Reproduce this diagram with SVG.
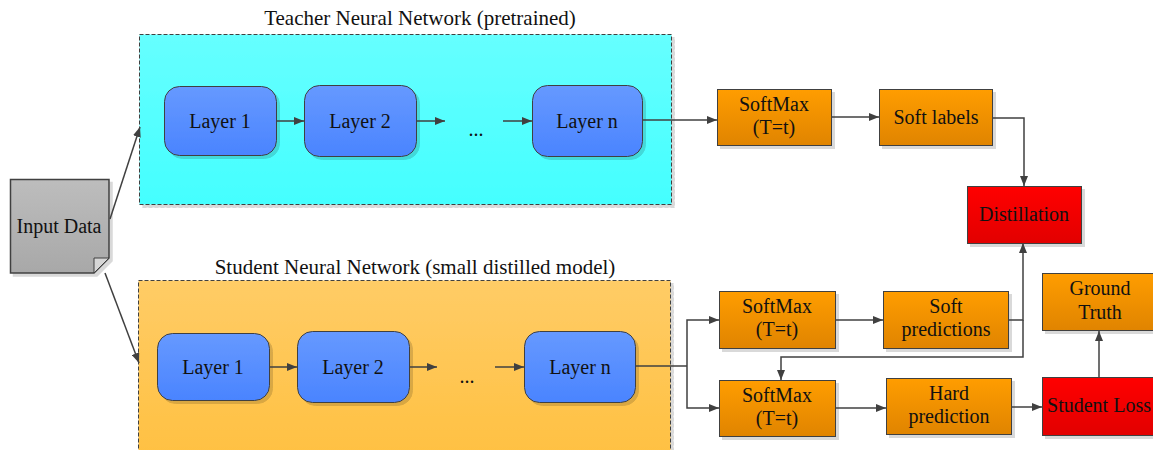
<svg xmlns="http://www.w3.org/2000/svg" width="1153" height="450" viewBox="0 0 1153 450">
  <defs>
    <linearGradient id="gCyan" x1="0" y1="0" x2="0" y2="1">
      <stop offset="0" stop-color="#66ffff"/>
      <stop offset="1" stop-color="#44ffff"/>
    </linearGradient>
    <linearGradient id="gPeach" x1="0" y1="0" x2="0" y2="1">
      <stop offset="0" stop-color="#ffcc66"/>
      <stop offset="1" stop-color="#ffc040"/>
    </linearGradient>
    <linearGradient id="gBlue" x1="0" y1="0" x2="0" y2="1">
      <stop offset="0" stop-color="#6699ff"/>
      <stop offset="1" stop-color="#4a84ff"/>
    </linearGradient>
    <linearGradient id="gOrange" x1="0" y1="0" x2="0" y2="1">
      <stop offset="0" stop-color="#ff9d00"/>
      <stop offset="1" stop-color="#e08400"/>
    </linearGradient>
    <linearGradient id="gRed" x1="0" y1="0" x2="0" y2="1">
      <stop offset="0" stop-color="#ff0000"/>
      <stop offset="1" stop-color="#e20000"/>
    </linearGradient>
    <linearGradient id="gGray" x1="0" y1="0" x2="0" y2="1">
      <stop offset="0" stop-color="#bdbdbd"/>
      <stop offset="1" stop-color="#a8a8a8"/>
    </linearGradient>
    <filter id="shadow" x="-10%" y="-10%" width="130%" height="130%">
      <feDropShadow dx="3" dy="3" stdDeviation="0.6" flood-color="#000" flood-opacity="0.15"/>
    </filter>
    <marker id="arrow" viewBox="0 0 10 8" refX="10" refY="4" markerWidth="10" markerHeight="8" markerUnits="userSpaceOnUse" orient="auto">
      <path d="M0,0 L10,4 L0,8 z" fill="#404040"/>
    </marker>
  </defs>
  <style>
    text { font-family: "Liberation Serif", "Times New Roman", serif; font-size: 20px; fill: #111; text-anchor: middle; }
    .title { font-size: 21px; }
    .group { stroke: #404040; stroke-width: 1; stroke-dasharray: 4 2; filter: url(#shadow); }
    .layer { fill: url(#gBlue); stroke: #404040; stroke-width: 1; filter: url(#shadow); }
    .orange { fill: url(#gOrange); stroke: #404040; stroke-width: 1; filter: url(#shadow); }
    .red { fill: url(#gRed); stroke: #404040; stroke-width: 1; filter: url(#shadow); }
    .conn path { fill: none; stroke: #404040; stroke-width: 1.5; }
    .conn .arr { marker-end: url(#arrow); }
  </style>

  <rect width="1153" height="450" fill="#ffffff"/>

  <!-- Teacher network container -->
  <g id="teacher">
    <text class="title" x="420" y="25">Teacher Neural Network (pretrained)</text>
    <rect class="group" x="139.5" y="34.5" width="532" height="170" fill="url(#gCyan)"/>
  </g>

  <!-- Student network container -->
  <g id="student">
    <text class="title" x="415" y="274">Student Neural Network (small distilled model)</text>
    <rect class="group" x="138.5" y="280.5" width="532" height="185" fill="url(#gPeach)"/>
  </g>

  <!-- Input document shape with folded corner -->
  <g id="input-data">
    <path d="M10.5,179.5 H109 V258 L94,273 H10.5 Z" fill="url(#gGray)" stroke="#404040" stroke-width="1.5" filter="url(#shadow)"/>
    <path d="M94,258 H109 L94,273 Z" fill="#d6d6d6" stroke="#404040" stroke-width="1"/>
    <text x="59" y="233">Input Data</text>
  </g>

  <!-- Teacher layers -->
  <g id="t-layer1">
    <rect class="layer" x="164.5" y="86.5" width="112" height="69" rx="15"/>
    <text x="220" y="128">Layer 1</text>
  </g>
  <g id="t-layer2">
    <rect class="layer" x="304.5" y="85.5" width="112" height="71" rx="15"/>
    <text x="360" y="128">Layer 2</text>
  </g>
  <g id="t-dots">
    <text x="476" y="136">...</text>
  </g>
  <g id="t-layern">
    <rect class="layer" x="532.5" y="85.5" width="110" height="71" rx="15"/>
    <text x="587" y="128">Layer n</text>
  </g>

  <!-- Student layers -->
  <g id="s-layer1">
    <rect class="layer" x="157.5" y="333.5" width="112" height="67" rx="15"/>
    <text x="213" y="374">Layer 1</text>
  </g>
  <g id="s-layer2">
    <rect class="layer" x="297.5" y="331.5" width="112" height="71" rx="15"/>
    <text x="353" y="374">Layer 2</text>
  </g>
  <g id="s-dots">
    <text x="467" y="383">...</text>
  </g>
  <g id="s-layern">
    <rect class="layer" x="524.5" y="331.5" width="111" height="71" rx="15"/>
    <text x="580" y="374">Layer n</text>
  </g>

  <!-- Teacher output side -->
  <g id="t-softmax">
    <rect class="orange" x="717.5" y="89.5" width="114" height="56"/>
    <text x="774" y="111">SoftMax</text>
    <text x="774" y="134">(T=t)</text>
  </g>
  <g id="soft-labels">
    <rect class="orange" x="879.5" y="89.5" width="113" height="56"/>
    <text x="936" y="124">Soft labels</text>
  </g>
  <g id="distillation">
    <rect class="red" x="967.5" y="186.5" width="114" height="57"/>
    <text x="1024" y="221">Distillation</text>
  </g>

  <!-- Student output side -->
  <g id="s-softmax-soft">
    <rect class="orange" x="719.5" y="291.5" width="116" height="57"/>
    <text x="777" y="313">SoftMax</text>
    <text x="777" y="336">(T=t)</text>
  </g>
  <g id="soft-predictions">
    <rect class="orange" x="883.5" y="291.5" width="125" height="57"/>
    <text x="946" y="313">Soft</text>
    <text x="946" y="336">predictions</text>
  </g>
  <g id="s-softmax-hard">
    <rect class="orange" x="719.5" y="380.5" width="116" height="56"/>
    <text x="777" y="402">SoftMax</text>
    <text x="777" y="425">(T=t)</text>
  </g>
  <g id="hard-prediction">
    <rect class="orange" x="886.5" y="378.5" width="125" height="56"/>
    <text x="949" y="400">Hard</text>
    <text x="949" y="423">prediction</text>
  </g>
  <g id="ground-truth">
    <rect class="orange" x="1042.5" y="273.5" width="116" height="57"/>
    <text x="1100" y="295">Ground</text>
    <text x="1100" y="319">Truth</text>
  </g>
  <g id="student-loss">
    <rect class="red" x="1042.5" y="377.5" width="116" height="58"/>
    <text x="1099" y="412">Student Loss</text>
  </g>

  <!-- Connectors -->
  <g id="connectors" class="conn">
    <path class="arr" d="M110,219 L140,127"/>
    <path class="arr" d="M105,273 L139,363"/>

    <path class="arr" d="M276,121 H304"/>
    <path class="arr" d="M417,121 H445"/>
    <path class="arr" d="M503,121 H532"/>

    <path class="arr" d="M269,367 H297"/>
    <path class="arr" d="M409,367 H437"/>
    <path class="arr" d="M495,367 H524"/>

    <path class="arr" d="M643,120 H717"/>
    <path class="arr" d="M832,117 H879"/>
    <path class="arr" d="M992,118 H1024 V186"/>

    <path d="M636,366 H687"/>
    <path class="arr" d="M687,366 V320 H719"/>
    <path class="arr" d="M687,366 V408 H719"/>

    <path class="arr" d="M836,320 H883"/>
    <path class="arr" d="M1008,320 H1023 V243"/>
    <path class="arr" d="M1023,320 V357 H781 V380"/>

    <path class="arr" d="M836,408 H886"/>
    <path class="arr" d="M1012,407 H1042"/>
    <path class="arr" d="M1099,377 V331"/>
  </g>
</svg>
